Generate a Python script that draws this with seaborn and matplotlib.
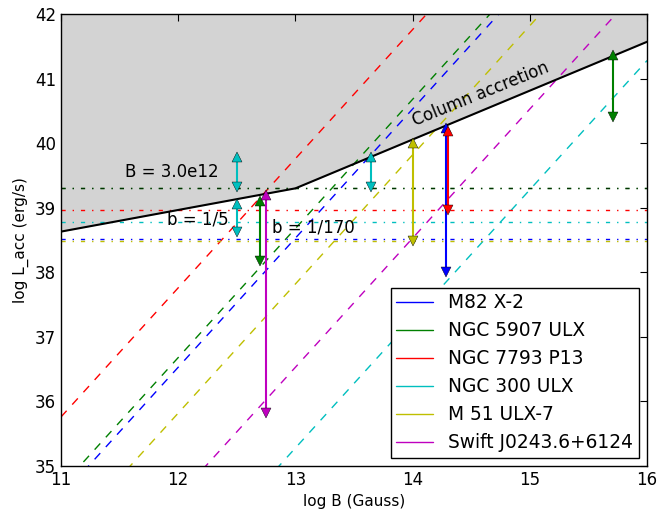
import matplotlib
matplotlib.use("Agg")
import matplotlib.pyplot as plt
from matplotlib.lines import Line2D
import numpy as np
import pandas as pd
import seaborn as sns

# Sources (legend order) and their colours
sources = ["M82 X-2", "NGC 5907 ULX", "NGC 7793 P13", "NGC 300 ULX",
           "M 51 ULX-7", "Swift J0243.6+6124"]
colors = ["b", "g", "r", "c", "y", "m"]

# Spin-equilibrium lines: log L at log B = 11 and at log B = 16
eq_logB = [11.0, 16.0]
eq_L_at11 = [34.53, 34.68, 35.76, 31.28, 33.82, 32.53]
eq_L_at16 = [44.53, 44.68, 45.76, 41.28, 43.82, 42.53]

# Observed luminosity levels (dash-dot horizontals)
obs_L = [38.51, 39.30, 38.97, 38.78, 38.48, None]

# Column-accretion boundary
bound_logB = [11.0, 13.0, 16.0]
bound_logL = [38.63, 39.30, 41.57]

# Vertical double-headed ranges: (logB, top, bottom, colour)
range_x = [12.5, 12.5, 12.7, 12.75, 13.645, 14.0, 14.285, 14.30, 15.707]
range_top = [39.78, 39.06, 39.11, 39.19, 39.78, 40.00, 40.23, 40.19, 41.37]
range_bot = [39.32, 38.62, 38.18, 35.82, 39.32, 38.48, 38.01, 38.97, 40.40]
range_col = ["c", "c", "g", "m", "c", "y", "b", "r", "g"]

sns.set_style("white")
plt.rcParams["font.family"] = ["DejaVu Sans"]
plt.rcParams.update({"text.color": "k", "axes.labelcolor": "k",
                     "xtick.color": "k", "ytick.color": "k"})

fig = plt.figure(figsize=(6.59, 5.18), dpi=100)
ax = fig.add_axes([0.0926, 0.1004, 0.8894, 0.8726])

# Shaded column-accretion region above the boundary
ax.fill_between(bound_logB, bound_logL, 42, color="#d3d3d3", lw=0, zorder=0)
sns.lineplot(x=bound_logB, y=bound_logL, color="k", lw=1.5, ax=ax, zorder=3)

# Spin-equilibrium dashed lines
for lo, hi, c in zip(eq_L_at11, eq_L_at16, colors):
    sns.lineplot(x=eq_logB, y=[lo, hi], color=c, lw=1.0,
                 linestyle=(0, (6, 6)), ax=ax, zorder=2)

# Observed luminosity levels
for L, c in zip(obs_L, colors):
    if L is None:
        continue
    sns.lineplot(x=[11, 16], y=[L, L], color=c, lw=1.0,
                 linestyle=(0, (3, 5, 1, 5)), ax=ax, zorder=2)
sns.lineplot(x=[11, 16], y=[39.30, 39.30], color="k", lw=1.0, alpha=0.6,
             linestyle=(0, (3, 5, 1, 5)), ax=ax, zorder=2)

# Ranges with arrow-like markers at both ends
for x, t, b, c in zip(range_x, range_top, range_bot, range_col):
    ax.plot([x, x], [t, b], color=c, lw=1.5, zorder=4)
    ax.plot([x], [t], marker="^", color=c, ms=6.5, mec="k", mew=0.3, zorder=5)
    ax.plot([x], [b], marker="v", color=c, ms=6.5, mec="k", mew=0.3, zorder=5)

# Annotations
ax.text(11.55, 39.55, "B = 3.0e12", fontsize=12, va="center", ha="left")
ax.text(11.90, 38.81, "b = 1/5", fontsize=12, va="center", ha="left")
ax.text(12.80, 38.70, "b = 1/170", fontsize=12, va="center", ha="left")
ax.text(14.58, 40.76, "Column accretion", fontsize=12, rotation=22,
        ha="center", va="center", rotation_mode="anchor")

ax.set_xlim(11, 16)
ax.set_ylim(35, 42)
ax.set_xticks([11, 12, 13, 14, 15, 16])
ax.set_yticks([35, 36, 37, 38, 39, 40, 41, 42])
ax.tick_params(direction="in", top=True, right=True, labelsize=12,
               length=5, width=0.8)
ax.set_xlabel("log B (Gauss)", fontsize=11)
ax.set_ylabel("log L_acc (erg/s)", fontsize=11)
for s in ax.spines.values():
    s.set_color("k")
    s.set_linewidth(1.0)

handles = [Line2D([0], [0], color=c, lw=1.0) for c in colors]
leg = ax.legend(handles, sources, loc="lower right", fontsize=13.4,
                frameon=True, fancybox=False, framealpha=1,
                edgecolor="k", borderaxespad=0.45, borderpad=0.3,
                labelspacing=0.48, handlelength=2.0)
leg.get_frame().set_linewidth(1.0)

fig.savefig("out.png", dpi=100)
